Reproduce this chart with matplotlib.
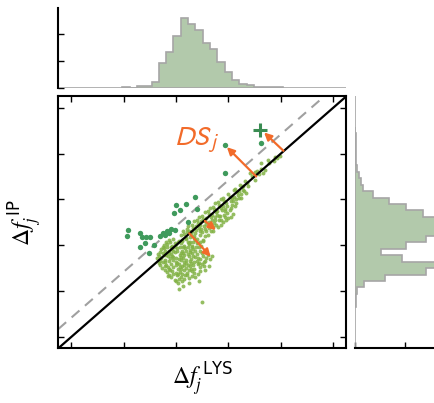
import numpy as np
import matplotlib.pyplot as plt

plt.rcParams['mathtext.fontset'] = 'stix'

# light green points: lower blob below the diagonal
cloud_low = [
    (2.03, 1.17), (2.11, 1.21), (1.97, 1.25), (2.06, 1.27),
    (1.91, 1.31), (2.01, 1.34), (2.09, 1.30), (2.17, 1.35), (2.25, 1.28), (1.95, 1.37),
    (1.83, 1.41), (1.89, 1.45), (1.99, 1.40), (2.07, 1.42), (2.15, 1.46), (2.21, 1.39),
    (2.31, 1.43), (2.41, 1.37), (2.12, 1.38),
    (1.73, 1.51), (1.79, 1.55), (1.87, 1.49), (1.95, 1.53), (2.03, 1.48), (2.11, 1.55),
    (2.19, 1.51), (2.27, 1.54), (2.35, 1.47), (2.45, 1.52), (2.00, 1.56), (2.24, 1.45),
    (1.67, 1.61), (1.75, 1.63), (1.81, 1.57), (1.91, 1.60), (1.99, 1.64), (2.05, 1.58),
    (2.15, 1.63), (2.23, 1.57), (2.29, 1.62), (2.39, 1.65), (2.49, 1.58), (1.86, 1.66), (2.10, 1.67),
    (1.63, 1.71), (1.71, 1.73), (1.79, 1.67), (1.89, 1.72), (1.95, 1.74), (2.05, 1.70),
    (2.13, 1.73), (2.19, 1.67), (2.29, 1.70), (2.37, 1.75), (2.45, 1.69), (2.57, 1.73),
    (1.84, 1.76), (2.24, 1.77),
    (1.65, 1.81), (1.75, 1.84), (1.81, 1.78), (1.91, 1.80), (1.97, 1.85), (2.07, 1.79),
    (2.13, 1.83), (2.23, 1.81), (2.31, 1.84), (2.39, 1.80), (2.49, 1.83), (2.02, 1.87), (2.60, 1.78),
    (1.71, 1.91), (1.77, 1.93), (1.87, 1.87), (1.93, 1.92), (2.01, 1.94), (2.11, 1.88),
    (2.17, 1.93), (2.27, 1.89), (2.33, 1.92), (2.43, 1.95), (2.07, 1.97),
    (1.77, 2.01), (1.83, 2.03), (1.93, 1.99), (1.99, 2.02), (2.09, 2.04), (2.15, 1.98),
    (2.25, 2.03), (2.31, 1.99), (2.41, 2.04),
    (1.87, 2.11), (1.95, 2.13), (2.03, 2.07), (2.11, 2.10), (2.19, 2.14), (2.27, 2.08),
    (2.37, 2.12), (2.51, 2.09),
    (2.68, 1.76), (2.53, 1.64), (2.63, 1.55), (2.55, 1.45), (2.37, 1.30), (2.43, 1.22),
    (2.24, 1.18), (2.14, 1.10), (2.05, 1.04), (2.49, 0.77), (1.85, 1.33),
]

# more light green points filling the gaps of the blob
cloud_fill = [
    (2.00, 1.21), (2.15, 1.26), (2.30, 1.33),
    (1.87, 1.36), (2.04, 1.37), (2.20, 1.34), (2.35, 1.39),
    (1.78, 1.46), (1.93, 1.44), (2.10, 1.47), (2.28, 1.48), (2.45, 1.44),
    (1.70, 1.56), (1.84, 1.53), (2.07, 1.52), (2.16, 1.57), (2.32, 1.56), (2.41, 1.59), (2.53, 1.55),
    (1.69, 1.66), (1.78, 1.64), (1.95, 1.67), (2.02, 1.61), (2.19, 1.62), (2.26, 1.66),
    (2.34, 1.64), (2.44, 1.62), (2.56, 1.66),
    (1.68, 1.76), (1.76, 1.78), (1.92, 1.77), (2.00, 1.72), (2.09, 1.75), (2.16, 1.78),
    (2.33, 1.77), (2.42, 1.73), (2.52, 1.77), (2.64, 1.70),
    (1.69, 1.86), (1.79, 1.88), (1.86, 1.83), (1.95, 1.88), (2.10, 1.84), (2.18, 1.87),
    (2.27, 1.85), (2.36, 1.87), (2.45, 1.88), (2.55, 1.86),
    (1.74, 1.96), (1.82, 1.97), (1.90, 1.95), (1.98, 1.97), (2.14, 1.95), (2.22, 1.96),
    (2.30, 1.95), (2.38, 1.97), (2.48, 1.98),
    (1.80, 2.06), (1.89, 2.07), (1.97, 2.05), (2.06, 2.09), (2.22, 2.06), (2.33, 2.06), (2.46, 2.06),
    (2.15, 2.25), (2.24, 2.32), (2.30, 2.30), (2.34, 2.20), (2.38, 2.42), (2.44, 2.38),
    (2.48, 2.52), (2.54, 2.42), (2.58, 2.60), (2.62, 2.50), (2.68, 2.66), (2.70, 2.40),
    (2.74, 2.62), (2.78, 2.74), (2.82, 2.64), (2.86, 2.54), (2.90, 2.86), (2.94, 2.80),
    (2.98, 2.70), (3.04, 2.96), (3.06, 2.88), (3.10, 3.06), (3.14, 3.00), (3.20, 3.18),
    (3.24, 3.12), (3.28, 3.30), (2.46, 2.30), (2.58, 2.30), (2.76, 2.45), (2.94, 2.62),
]

# light green points: band along the diagonal and upper tail
cloud_band = [
    (2.10, 2.22), (2.18, 2.16), (2.25, 2.05), (2.14, 2.30),
    (2.20, 2.35), (2.28, 2.24), (2.35, 2.15), (2.40, 2.05), (2.22, 2.42),
    (2.30, 2.45), (2.38, 2.33), (2.45, 2.22), (2.52, 2.12), (2.34, 2.52),
    (2.40, 2.55), (2.46, 2.44), (2.55, 2.35), (2.60, 2.22), (2.44, 2.62),
    (2.50, 2.64), (2.56, 2.52), (2.64, 2.45), (2.70, 2.30), (2.55, 2.72),
    (2.60, 2.74), (2.66, 2.62), (2.74, 2.55), (2.80, 2.40), (2.64, 2.82),
    (2.70, 2.84), (2.76, 2.72), (2.84, 2.64), (2.90, 2.50), (2.74, 2.92),
    (2.80, 2.94), (2.86, 2.82), (2.94, 2.74), (3.00, 2.60), (2.86, 3.00),
    (2.90, 3.02), (2.96, 2.92), (3.04, 2.82), (3.08, 2.68),
    (3.00, 3.12), (3.06, 3.02), (3.14, 2.92), (3.10, 3.20),
    (3.12, 3.22), (3.18, 3.10), (3.24, 3.02),
    (3.22, 3.32), (3.28, 3.20), (3.34, 3.14),
    (3.32, 3.40), (3.38, 3.30),
    (2.12, 2.12), (2.20, 2.28), (2.26, 2.18), (2.32, 2.38), (2.36, 2.26), (2.42, 2.48),
    (2.48, 2.36), (2.50, 2.28), (2.52, 2.58), (2.58, 2.46), (2.62, 2.38), (2.62, 2.68),
    (2.68, 2.56), (2.72, 2.48), (2.72, 2.78), (2.78, 2.66), (2.82, 2.56), (2.82, 2.88),
    (2.88, 2.76), (2.92, 2.66), (2.92, 2.96), (2.98, 2.86), (3.02, 2.76), (3.02, 3.06),
    (3.08, 2.96), (3.12, 2.86), (3.16, 3.16), (3.20, 3.04), (3.26, 3.26), (3.30, 3.18),
    (3.36, 3.36), (2.96, 2.55), (3.05, 2.62), (2.85, 2.45), (2.66, 2.30), (2.40, 2.14),
    (2.56, 2.20),
    (3.45, 3.50), (3.50, 3.42), (3.58, 3.55), (3.62, 3.66), (3.70, 3.64), (3.78, 3.80),
    (3.86, 3.84), (3.92, 3.90), (3.98, 3.95), (3.55, 3.62), (3.66, 3.58), (3.42, 3.58),
    (3.62, 3.80), (3.75, 3.85), (3.88, 3.93), (3.50, 3.60),
]

# darker outliers above the diagonal
outliers = [
    (1.08, 2.33), (1.06, 2.20), (1.31, 2.26), (1.34, 2.19), (1.43, 2.19), (1.51, 2.19),
    (1.41, 2.05), (1.31, 1.97), (1.74, 2.27), (1.79, 2.22), (1.87, 2.26), (1.90, 2.35),
    (1.98, 2.33), (1.82, 2.30), (1.70, 2.21), (1.57, 2.01), (1.49, 1.84),
    (1.99, 2.88), (1.96, 2.71), (2.07, 2.76), (2.19, 2.91), (2.37, 3.05), (2.39, 2.80),
    (2.23, 2.51), (2.93, 3.57), (2.93, 4.19), (3.62, 4.24),
]
highlight = (3.61, 4.51)

# orange arrows: (tail, head)
arrows = [
    ((4.05, 4.06), (3.68, 4.46)),
    ((3.53, 3.50), (2.97, 4.14)),
    ((2.55, 2.53), (2.76, 2.33)),
    ((2.25, 2.26), (2.66, 1.75)),
]

offset = 0.42  # dashed reference line

bin_width = 0.14
top_start = 0.97
top_counts = [0.04, 0.0, 0.08, 0.09, 0.21, 0.94, 1.35, 1.91, 2.59, 2.38, 2.16,
              1.65, 1.44, 0.98, 0.59, 0.31, 0.15, 0.10, 0.05, 0.04, 0.03, 0.04]
right_start = 0.66
right_counts = [0.02, 0.03, 0.04, 0.19, 0.60, 1.43, 1.75, 0.95, 0.53, 1.03, 1.43,
                1.80, 2.00, 1.85, 1.37, 1.02, 0.69, 0.37, 0.17, 0.12, 0.08,
                0.04, 0.03, 0.03, 0.02, 0.02, 0.02, 0.01]

lims = (-0.25, 5.25)
orange = '#f26b2a'
light = '#82b245'
hist_face = '#b2c9ab'
hist_edge = '#a6a6a6'

W, H = 435, 403
fig = plt.figure(figsize=(W / 100, H / 100), dpi=100)
ax = fig.add_axes([58.3 / W, 1 - 348.3 / H, 288 / W, 252 / H])
axt = fig.add_axes([58.3 / W, 1 - 88 / H, 288 / W, 80 / H])
axr = fig.add_axes([355 / W, 1 - 348.3 / H, 100 / W, 252 / H])

# main scatter
for pts in (cloud_low, cloud_fill, cloud_band):
    p = np.array(pts)
    ax.scatter(p[:, 0], p[:, 1], s=8, color=light, alpha=0.85, lw=0, zorder=2)
out = np.array(outliers)
ax.scatter(out[:, 0], out[:, 1], s=15, color='#3f9a5c', lw=0, zorder=2)
ax.plot(*highlight, marker='+', ms=10, mew=2.2, color='#3a8c52', zorder=4)

ax.axline((0, 0), slope=1, color='black', lw=1.6, zorder=3)
ax.axline((0, offset), slope=1, color='#a0a0a0', lw=1.5, ls=(0, (5, 3.5)), zorder=1)

for tail, head in arrows:
    ax.annotate('', xy=head, xytext=tail,
                arrowprops=dict(arrowstyle='-|>', color=orange, lw=1.6,
                                mutation_scale=11, shrinkA=0, shrinkB=0), zorder=5)

ax.text(1.96, 4.17, r'$DS_{\,j}$', color=orange, fontsize=20, math_fontfamily='stixsans')

ax.set_xlim(lims)
ax.set_ylim(lims)
ax.set_xticks(range(6))
ax.set_yticks(range(6))
ax.tick_params(direction='in', length=4, width=1, top=True, right=True,
               labelbottom=False, labelleft=False)
for s in ax.spines.values():
    s.set_linewidth(1.5)
ax.set_xlabel(r'$\Delta f_j^{\ \mathregular{LYS}}$', fontsize=17, labelpad=9)
ax.set_ylabel(r'$\Delta f_j^{\ \mathregular{IP}}$', fontsize=17, labelpad=10)

# top histogram
top_edges = top_start + bin_width * np.arange(len(top_counts) + 1)
axt.stairs(top_counts, top_edges, fill=True, facecolor=hist_face,
           edgecolor=hist_edge, lw=1.2)
axt.axhline(0, color=hist_edge, lw=1.2)
axt.set_xlim(lims)
axt.set_ylim(0, 2.96)
axt.set_xticks([])
axt.set_yticks([0, 1, 2])
axt.tick_params(axis='y', direction='in', length=4, width=1, labelleft=False)
for side in ['top', 'right', 'bottom']:
    axt.spines[side].set_visible(False)
axt.spines['left'].set_linewidth(1.5)

# right histogram
right_edges = right_start + bin_width * np.arange(len(right_counts) + 1)
axr.stairs(right_counts, right_edges, fill=True, orientation='horizontal',
           facecolor=hist_face, edgecolor=hist_edge, lw=1.2)
axr.axvline(0, color=hist_edge, lw=1.2)
axr.set_ylim(lims)
axr.set_xlim(0, 2)
axr.set_yticks([])
axr.set_xticks([0, 1, 2])
axr.tick_params(axis='x', direction='in', length=4, width=1, labelbottom=False)
for side in ['top', 'right', 'left']:
    axr.spines[side].set_visible(False)
axr.spines['bottom'].set_linewidth(1.5)

fig.savefig('out.png', dpi=100)
